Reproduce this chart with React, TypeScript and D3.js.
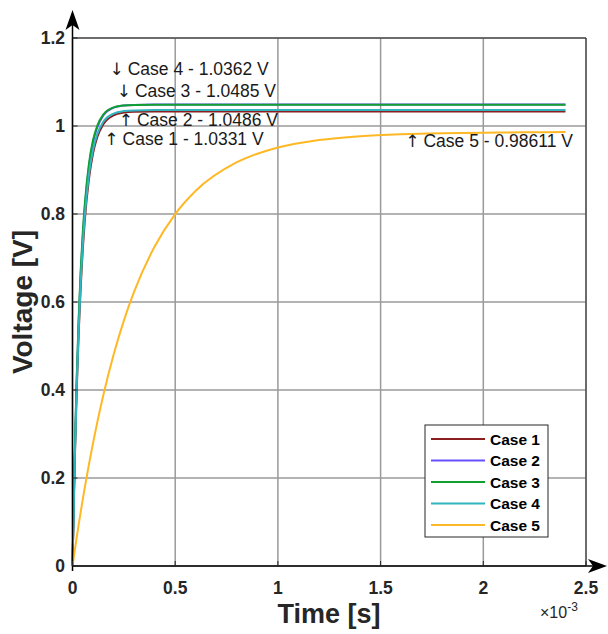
import React from "react";
import { scaleLinear, line, curveMonotoneX } from "d3";

// time samples, in ms (axis shows x10^-3 s)
const timeMs = [0, 0.01, 0.02, 0.03, 0.04, 0.05, 0.06, 0.08, 0.1, 0.12, 0.15, 0.2, 0.25, 0.3, 0.4, 0.5, 0.6, 0.8, 1.0, 1.2, 1.4, 1.6, 1.8, 2.0, 2.2, 2.4];

const case1 = [0, 0.219, 0.391, 0.527, 0.634, 0.719, 0.786, 0.879, 0.938, 0.974, 1.004, 1.024, 1.0304, 1.0323, 1.0331, 1.0331, 1.0331, 1.0331, 1.0331, 1.0331, 1.0331, 1.0331, 1.0331, 1.0331, 1.0331, 1.0331];
const case2 = [0, 0.232, 0.413, 0.553, 0.663, 0.748, 0.815, 0.907, 0.963, 0.996, 1.024, 1.0416, 1.0466, 1.048, 1.0486, 1.0486, 1.0486, 1.0486, 1.0486, 1.0486, 1.0486, 1.0486, 1.0486, 1.0486, 1.0486, 1.0486];
const case3 = [0, 0.237, 0.421, 0.563, 0.673, 0.758, 0.823, 0.914, 0.968, 1.0, 1.026, 1.0423, 1.0468, 1.048, 1.0485, 1.0485, 1.0485, 1.0485, 1.0485, 1.0485, 1.0485, 1.0485, 1.0485, 1.0485, 1.0485, 1.0485];
const case4 = [0, 0.224, 0.4, 0.538, 0.646, 0.73, 0.796, 0.889, 0.946, 0.981, 1.0095, 1.0283, 1.0339, 1.0355, 1.0362, 1.0362, 1.0362, 1.0362, 1.0362, 1.0362, 1.0362, 1.0362, 1.0362, 1.0362, 1.0362, 1.0362];
const case5 = [0, 0.0323, 0.0636, 0.0939, 0.1231, 0.1514, 0.1788, 0.2309, 0.2796, 0.3252, 0.3881, 0.4799, 0.5576, 0.6234, 0.7262, 0.7999, 0.8528, 0.9177, 0.951, 0.9681, 0.9769, 0.9814, 0.9838, 0.9849, 0.9856, 0.9861];

const seriesNames = ["Case 1", "Case 2", "Case 3", "Case 4", "Case 5"];
const seriesValues = [case1, case2, case3, case4, case5];
const seriesColors = ["#8b1e1e", "#6650ff", "#10a030", "#2fb5c0", "#ffb825"];

const xTicks = [0, 0.5, 1, 1.5, 2, 2.5];
const yTicks = [0, 0.2, 0.4, 0.6, 0.8, 1, 1.2];

// annotation texts with anchor points (time ms, volts)
const notes = [
  { arrow: "\u2193", text: "Case 4 - 1.0362 V", t: 0.18, v: 1.115 },
  { arrow: "\u2193", text: "Case 3 - 1.0485 V", t: 0.215, v: 1.065 },
  { arrow: "\u2191", text: "Case 2 - 1.0486 V", t: 0.225, v: 0.999 },
  { arrow: "\u2191", text: "Case 1 - 1.0331 V", t: 0.155, v: 0.957 },
  { arrow: "\u2191", text: "Case 5 - 0.98611 V", t: 1.62, v: 0.952 },
];

export default function App() {
  const width = 608;
  const height = 634;
  const left = 72.5, right = 586, top = 38, bottom = 566;

  const x = scaleLinear().domain([0, 2.5]).range([left, right]);
  const y = scaleLinear().domain([0, 1.2]).range([bottom, top]);

  const path = line<number>()
    .x((d, i) => x(timeMs[i]))
    .y(d => y(d))
    .curve(curveMonotoneX);

  const font = "'Liberation Sans', Arial, sans-serif";
  const legX = 425, legY = 425, legW = 123, legH = 112;

  return (
    <svg width={width} height={height} style={{ position: "absolute", left: 0, top: 0, background: "#fff" }}>
      {/* grid */}
      {xTicks.map(t => (
        <line key={"gx" + t} x1={x(t)} x2={x(t)} y1={top} y2={bottom} stroke="#9a9a9a" strokeWidth={1.5} />
      ))}
      {yTicks.map(t => (
        <line key={"gy" + t} x1={left} x2={right} y1={y(t)} y2={y(t)} stroke="#9a9a9a" strokeWidth={1.5} />
      ))}
      {/* box top/right */}
      <line x1={left} x2={right} y1={top} y2={top} stroke="#262626" strokeWidth={1} />
      <line x1={right} x2={right} y1={top} y2={bottom} stroke="#262626" strokeWidth={1} />

      {/* series */}
      {seriesValues.map((vals, i) => (
        <path key={seriesNames[i]} d={path(vals) || ""} fill="none" stroke={seriesColors[i]} strokeWidth={2} />
      ))}

      {/* axes with arrows */}
      <line x1={left} x2={left} y1={bottom + 5} y2={14} stroke="#000" strokeWidth={1.5} />
      <path d={`M${left},10 L${left + 7},30 L${left},25 L${left - 7},30 Z`} fill="#000" />
      <line x1={left} x2={602} y1={bottom} y2={bottom} stroke="#000" strokeWidth={1.5} />
      <path d={`M607,${bottom} L588,${bottom - 7} L593,${bottom} L588,${bottom + 7} Z`} fill="#000" />

      {/* ticks */}
      {xTicks.map(t => (
        <g key={"tx" + t}>
          <line x1={x(t)} x2={x(t)} y1={bottom} y2={bottom - 5} stroke="#262626" />
          <text x={x(t)} y={594} textAnchor="middle" fontFamily={font} fontWeight="bold" fontSize={17.5} fill="#262626">{t}</text>
        </g>
      ))}
      {yTicks.map(t => (
        <g key={"ty" + t}>
          <line x1={left} x2={left + 5} y1={y(t)} y2={y(t)} stroke="#262626" />
          <text x={65} y={y(t) + 6} textAnchor="end" fontFamily={font} fontWeight="bold" fontSize={17.5} fill="#262626">{t}</text>
        </g>
      ))}

      {/* axis titles */}
      <text x={329} y={623} textAnchor="middle" fontFamily={font} fontWeight="bold" fontSize={27} fill="#262626">Time [s]</text>
      <text transform={`translate(32,${(top + bottom) / 2}) rotate(-90)`} textAnchor="middle" fontFamily={font} fontWeight="bold" fontSize={28} fill="#262626">Voltage [V]</text>
      <text x={540} y={618} fontFamily={font} fontSize={16} fill="#262626">
        {"\u00d710"}
        <tspan dy={-7} fontSize={12}>-3</tspan>
      </text>

      {/* annotations */}
      {notes.map(n => (
        <text key={n.text} x={x(n.t)} y={y(n.v)} fontFamily={font} fontSize={17.5} fill="#1a1a1a">
          <tspan fontFamily="'DejaVu Sans', sans-serif" fontSize={17} fill="#1a1a1a">{n.arrow}</tspan>
          <tspan dx={4}>{n.text}</tspan>
        </text>
      ))}

      {/* legend */}
      <rect x={legX} y={legY} width={legW} height={legH} fill="#fff" stroke="#262626" strokeWidth={1} />
      {seriesNames.map((name, i) => {
        const ly = legY + 14 + i * 21.5;
        return (
          <g key={"leg" + name}>
            <line x1={431} x2={485} y1={ly} y2={ly} stroke={seriesColors[i]} strokeWidth={2} />
            <text x={490} y={ly + 5.5} fontFamily={font} fontWeight="bold" fontSize={15.5} fill="#000">{name}</text>
          </g>
        );
      })}
    </svg>
  );
}
